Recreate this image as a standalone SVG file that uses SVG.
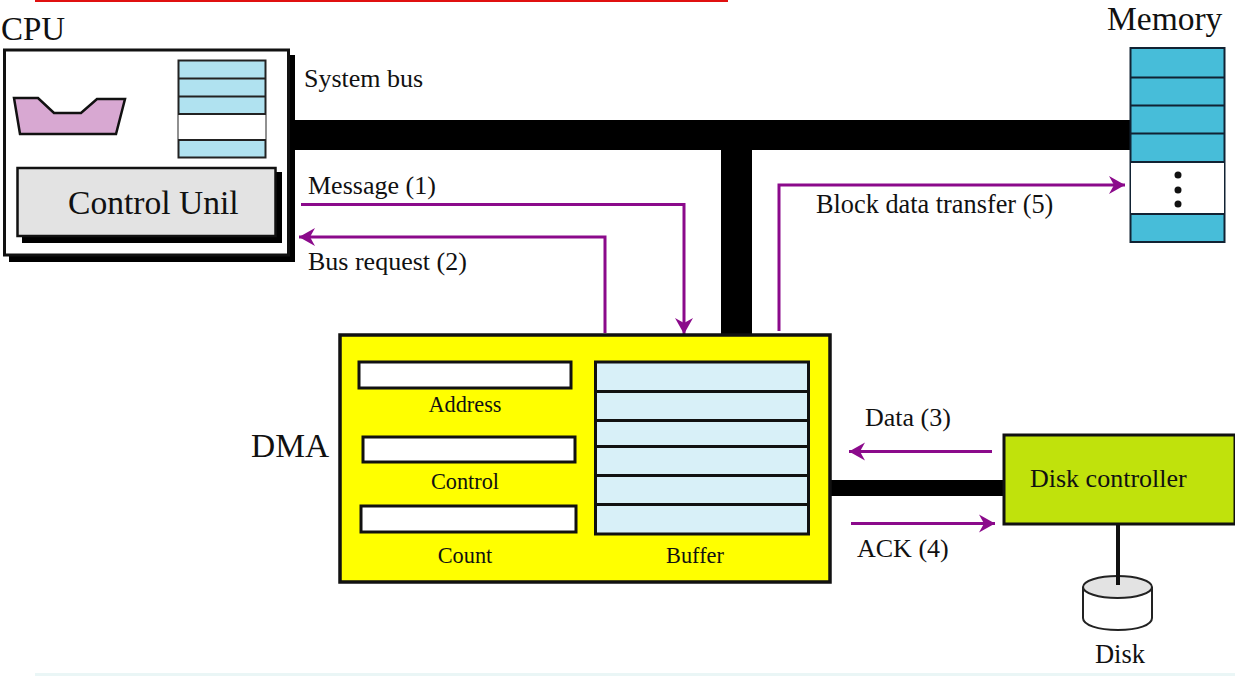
<svg xmlns="http://www.w3.org/2000/svg" width="1235" height="676" viewBox="0 0 1235 676">
<defs>
<marker id="ah" markerUnits="userSpaceOnUse" markerWidth="18" markerHeight="20" refX="16" refY="10" orient="auto"><path d="M0 1 L16 10 L0 19 L5 10 Z" fill="#8b0a8b"/></marker>
</defs>
<style>
text{font-family:"Liberation Serif","Times New Roman",serif;fill:#111}
.s{font-size:26px}
.l{font-size:22.300px}
.p{fill:none;stroke:#8b0a8b;stroke-width:3;marker-end:url(#ah)}
.k{fill:#000}
</style>
<rect width="1235" height="676" fill="#fff"/>
<rect x="35" y="0" width="693" height="2" fill="#e01010"/>
<rect x="35" y="673" width="1200" height="3" fill="#eaf6f6"/>
<g id="connectors">
<rect class="k" x="290" y="120" width="842" height="30"/>
<rect class="k" x="721" y="150" width="31" height="186"/>
<rect class="k" x="830" y="480" width="174" height="16"/>
<path class="p" d="M301 204.500H684V334"/>
<path class="p" d="M605 333V237H299"/>
<path class="p" d="M779 331V185H1125"/>
<path class="p" d="M992 451.500H849"/>
<path class="p" d="M851 523.500H995"/>
<path d="M1118 525V583" stroke="#111" stroke-width="4" fill="none"/>
</g>
<g id="cpu">
<rect class="k" x="9" y="55" width="286" height="207"/>
<rect x="4.500" y="50" width="284" height="205" fill="#fff" stroke="#111" stroke-width="3"/>
<path d="M14 98H38L54 113H81L97 99H125L116 134H20Z" fill="#d8a8d2" stroke="#111" stroke-width="2.500"/>
<rect x="178.500" y="60.500" width="87" height="97" fill="#b0e2f0" stroke="#222" stroke-width="2"/>
<rect x="178.500" y="114" width="87" height="26" fill="#fff"/>
<path d="M178 78.500H266M178 96.500H266M178 114H266M178 140H266" stroke="#222" stroke-width="2" fill="none"/>
<rect class="k" x="22" y="172" width="260" height="71"/>
<rect x="17.500" y="168" width="258" height="68" fill="#e3e3e3" stroke="#111" stroke-width="2.500"/>
<text x="68" y="214" font-size="33.600">Control Unil</text>
<text x="1" y="40" font-size="33">CPU</text>
</g>
<g id="memory">
<rect x="1130.500" y="48" width="94" height="194" fill="#47bdd9" stroke="#123" stroke-width="2"/>
<rect x="1131" y="162" width="93" height="52" fill="#fff"/>
<path d="M1130 77.500H1225M1130 105.500H1225M1130 133.500H1225M1130 162H1225M1130 214H1225" stroke="#123" stroke-width="2" fill="none"/>
<circle cx="1178" cy="175" r="3.500" fill="#111"/><circle cx="1178" cy="190" r="3.500" fill="#111"/><circle cx="1178" cy="204" r="3.500" fill="#111"/>
<text x="1107" y="30" font-size="33.500">Memory</text>
</g>
<g id="dma">
<rect x="340" y="335" width="490" height="247" fill="#ffff00" stroke="#111" stroke-width="3.500"/>
<rect x="359" y="362" width="212" height="26" fill="#fff" stroke="#111" stroke-width="3"/>
<rect x="363" y="437" width="212" height="25" fill="#fff" stroke="#111" stroke-width="3"/>
<rect x="361" y="506" width="215" height="26" fill="#fff" stroke="#111" stroke-width="3"/>
<rect x="595.500" y="362" width="213" height="172" fill="#d8f0f8" stroke="#111" stroke-width="3"/>
<path d="M595 391.500H809M595 420.500H809M595 446.500H809M595 475.500H809M595 504.500H809" stroke="#111" stroke-width="3" fill="none"/>
<text class="l" x="465" y="412" text-anchor="middle">Address</text>
<text class="l" x="465" y="489" text-anchor="middle">Control</text>
<text class="l" x="465" y="563" text-anchor="middle">Count</text>
<text class="l" x="695" y="563" text-anchor="middle">Buffer</text>
<text x="251" y="457" font-size="33.500">DMA</text>
</g>
<g id="disk-controller">
<rect x="1004" y="435" width="231" height="89" fill="#c0e20c" stroke="#111" stroke-width="3"/>
<text x="1030" y="487" font-size="26">Disk controller</text>
</g>
<g id="disk">
<path d="M1083 587V618C1083 625 1098 630 1118 630C1138 630 1152 625 1152 618V587" fill="#fff" stroke="#222" stroke-width="2"/>
<ellipse cx="1117.500" cy="587" rx="34.500" ry="11" fill="#e3e3e3" stroke="#222" stroke-width="2"/>
<path d="M1118 575V585" stroke="#111" stroke-width="4"/>
<text x="1120" y="663" text-anchor="middle" font-size="26.500">Disk</text>
</g>
<g id="labels">
<text class="s" x="304" y="87">System bus</text>
<text class="s" x="308" y="194">Message (1)</text>
<text class="s" x="308" y="270">Bus request (2)</text>
<text class="s" x="816" y="213" font-size="26.300" style="font-size:26.300px">Block data transfer (5)</text>
<text class="s" x="865" y="426">Data (3)</text>
<text class="s" x="857" y="557">ACK (4)</text>
</g>
</svg>
